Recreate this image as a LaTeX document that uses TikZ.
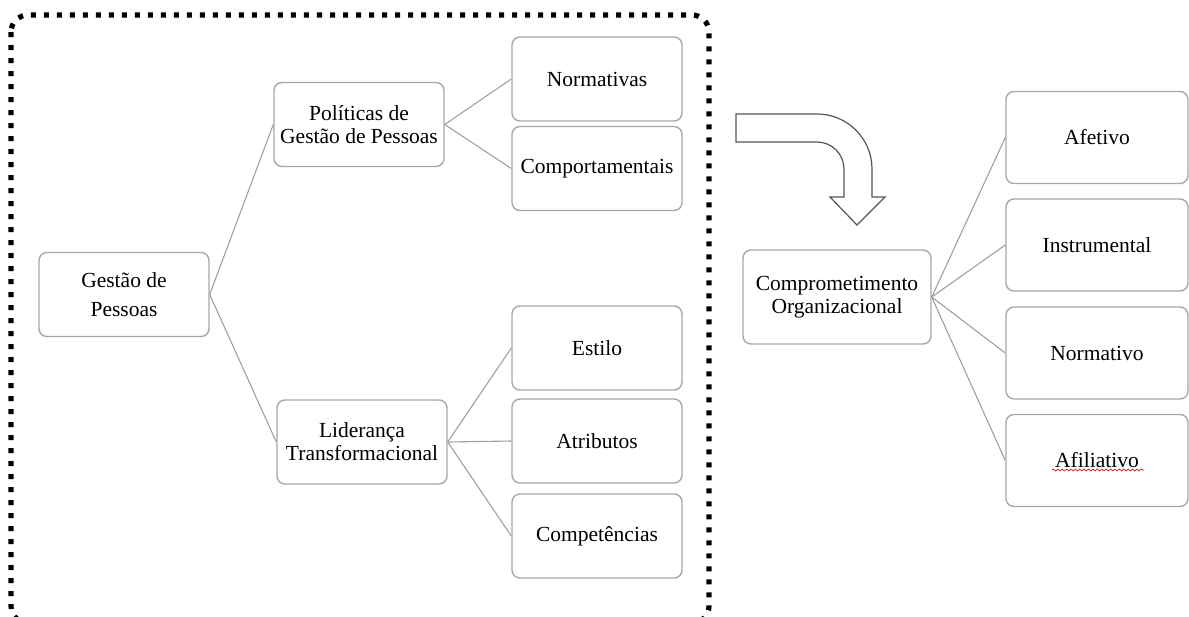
\documentclass[tikz,border=0pt]{standalone}
\usepackage{fontspec}
\setmainfont{Liberation Serif}
\usetikzlibrary{decorations.pathmorphing}
\definecolor{boxgray}{RGB}{168,168,168}
\definecolor{linegray}{RGB}{160,160,160}
\definecolor{arrowgray}{RGB}{85,85,85}
\newcommand\boxfont{\fontsize{10.75pt}{11.6pt}\selectfont}
\newcommand\wideboxfont{\fontsize{10.75pt}{14.5pt}\selectfont}
\begin{document}
\begin{tikzpicture}[x=0.5pt,y=-0.5pt,
  box/.style={draw=boxgray, line width=0.7pt, rounded corners=4pt, fill=white,
    align=center, inner sep=0pt, font=\boxfont,
    minimum width=85pt, minimum height=42pt},
  wbox/.style={box, minimum width=91pt, minimum height=46pt},
  conn/.style={draw=linegray, line width=0.55pt},
  dotborder/.style={draw=black, line width=2.6pt, line cap=butt,
    dash pattern=on 2.5pt off 4pt, rounded corners=8.5pt},
  bigarrow/.style={draw=arrowgray, line width=0.6pt, fill=white, line join=miter}
]
\useasboundingbox (0,0) rectangle (1189,616);

% dotted frame
\draw[dotborder] (11,15) rectangle (709,623);

% left tree
\node[box, font=\wideboxfont] (gp) at (124,294.5) {Gestão de\\Pessoas};
\node[box] (pol) at (359,124.5) {Políticas de\\Gestão de Pessoas};
\node[box] (lid) at (362,442) {Liderança\\Transformacional};
\node[box] (nor) at (597,79) {Normativas};
\node[box] (com) at (597,168.5) {Comportamentais};
\node[box] (est) at (597,348) {Estilo};
\node[box] (atr) at (597,441) {Atributos};
\node[box] (cmp) at (597,536) {Competências};

\draw[conn] (gp.east) -- (pol.west);
\draw[conn] (gp.east) -- (lid.west);
\draw[conn] (pol.east) -- (nor.west);
\draw[conn] (pol.east) -- (com.west);
\draw[conn] (lid.east) -- (est.west);
\draw[conn] (lid.east) -- (atr.west);
\draw[conn] (lid.east) -- (cmp.west);

% bent arrow
\draw[bigarrow] (736,114) -- (817,114)
  .. controls (847.4,114) and (872,138.6) .. (872,169)
  -- (872,197) -- (885,197) -- (857,225) -- (830,197) -- (844,197) -- (844,169)
  .. controls (844,154.1) and (831.9,142) .. (817,142)
  -- (736,142) -- cycle;

% right tree
\node[box, minimum width=94pt, minimum height=47pt] (co) at (837,297) {Comprometimento\\Organizacional};
\node[wbox] (afe) at (1097,137.5) {Afetivo};
\node[wbox] (ins) at (1097,245) {Instrumental};
\node[wbox] (nmt) at (1097,353) {Normativo};
\node[wbox] (afi) at (1097,460.5) {Afiliativo};

\draw[conn] (co.east) -- (afe.west);
\draw[conn] (co.east) -- (ins.west);
\draw[conn] (co.east) -- (nmt.west);
\draw[conn] (co.east) -- (afi.west);

% spell-check wavy underline
\draw[red!85!black, line width=0.3pt, decorate,
  decoration={snake, amplitude=0.5pt, segment length=2.2pt}]
  (1052,470) -- (1144,470);
\end{tikzpicture}
\end{document}
